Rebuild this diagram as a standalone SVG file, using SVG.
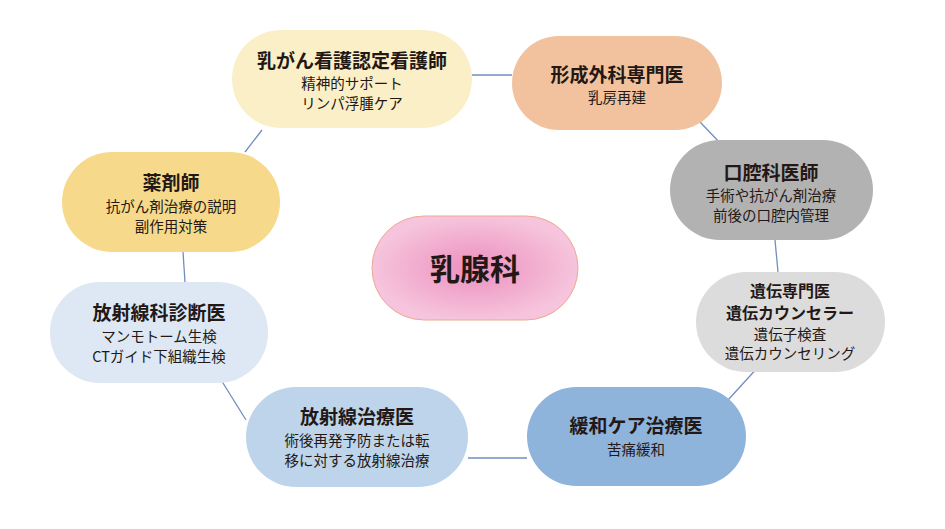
<svg xmlns="http://www.w3.org/2000/svg" width="945" height="529" viewBox="0 0 945 529">
<defs>
<radialGradient id="pink" cx="50%" cy="50%" r="50%">
<stop offset="0" stop-color="#ec8fbf"/>
<stop offset="1" stop-color="#f6c4dc"/>
</radialGradient>
<style>
text{font-family:"Noto Sans CJK JP","Noto Sans",sans-serif;text-anchor:middle;fill:#231815}
.t{font-size:19px;font-weight:bold}
.s{font-size:14.5px}
.c{stroke:#6f8fbf;stroke-width:1.3;fill:none}
</style>
</defs>
<rect width="945" height="529" fill="#fff"/>
<g id="connectors">
<line class="c" x1="472" y1="75" x2="512" y2="75"/>
<line class="c" x1="700" y1="122" x2="722" y2="145"/>
<line class="c" x1="775" y1="240" x2="778" y2="272"/>
<line class="c" x1="760" y1="365" x2="728" y2="400"/>
<line class="c" x1="468" y1="458" x2="527" y2="458"/>
<line class="c" x1="246" y1="420" x2="218" y2="375"/>
<line class="c" x1="185" y1="282" x2="183" y2="252"/>
<line class="c" x1="245" y1="152" x2="262" y2="130"/>
</g>
<g id="n1"><rect x="232" y="30" width="240" height="98" rx="49" fill="#fbefc7"/>
<text class="t" x="352" y="68">乳がん看護認定看護師</text><text class="s" x="352" y="89">精神的サポート</text><text class="s" x="352" y="109">リンパ浮腫ケア</text></g>
<g id="n2"><rect x="512" y="36" width="210" height="94" rx="47" fill="#f1c29d"/>
<text class="t" x="617" y="82">形成外科専門医</text><text class="s" x="617" y="103">乳房再建</text></g>
<g id="n3"><rect x="670" y="140" width="203" height="100" rx="50" fill="#b2b2b2"/>
<text class="t" x="771" y="180">口腔科医師</text><text class="s" x="771" y="201">手術や抗がん剤治療</text><text class="s" x="771" y="221">前後の口腔内管理</text></g>
<g id="n4"><rect x="696" y="272" width="189" height="100" rx="50" fill="#dcdcdc"/>
<text class="t" x="790" y="297" style="font-size:16px">遺伝専門医</text><text class="t" x="790" y="319" style="font-size:16px">遺伝カウンセラー</text><text class="s" x="790" y="340">遺伝子検査</text><text class="s" x="790" y="359">遺伝カウンセリング</text></g>
<g id="n5"><rect x="527" y="387" width="219" height="99" rx="49.5" fill="#8fb4dc"/>
<text class="t" x="636" y="433">緩和ケア治療医</text><text class="s" x="636" y="455">苦痛緩和</text></g>
<g id="n6"><rect x="246" y="387" width="222" height="100" rx="50" fill="#bdd4ea"/>
<text class="t" x="357" y="424">放射線治療医</text><text class="s" x="357" y="446">術後再発予防または転</text><text class="s" x="357" y="466">移に対する放射線治療</text></g>
<g id="n7"><rect x="50" y="282" width="218" height="101" rx="50" fill="#dde8f4"/>
<text class="t" x="159" y="320">放射線科診断医</text><text class="s" x="159" y="342">マンモトーム生検</text><text class="s" x="159" y="362">CTガイド下組織生検</text></g>
<g id="n8"><rect x="62" y="152" width="218" height="100" rx="50" fill="#f6d98b"/>
<text class="t" x="171" y="190">薬剤師</text><text class="s" x="171" y="212">抗がん剤治療の説明</text><text class="s" x="171" y="232">副作用対策</text></g>
<g id="center"><rect x="372" y="216" width="206" height="104" rx="52" fill="url(#pink)" stroke="#f0a890" stroke-width="1"/>
<text x="475" y="280" style="font-size:30px;font-weight:bold">乳腺科</text></g>
</svg>
